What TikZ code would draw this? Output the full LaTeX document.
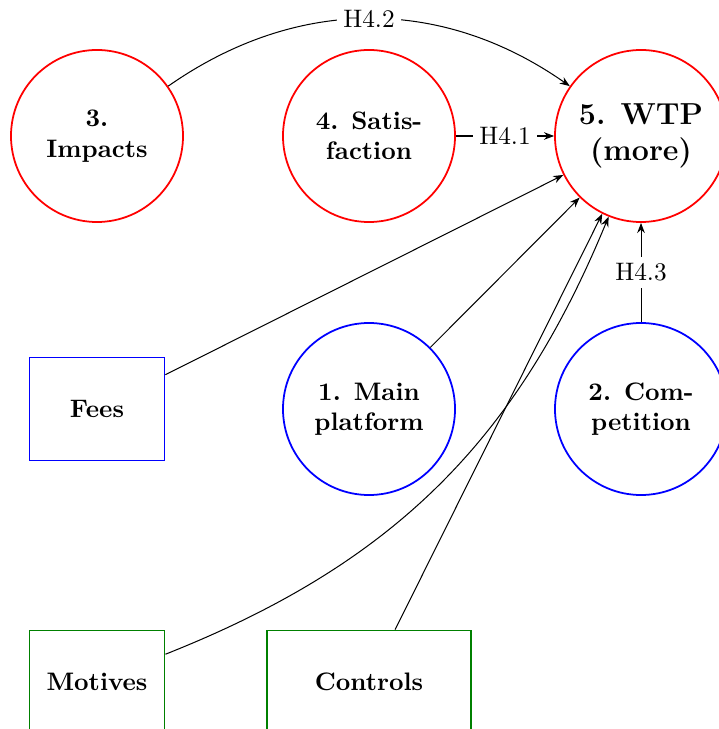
\documentclass[tikz,border=0pt]{standalone}
\usetikzlibrary{arrows.meta}
\begin{document}
\begin{tikzpicture}[x={(0.3953pt,0)}, y={(0,-0.3953pt)},
  every node/.style={font=\bfseries, align=center},
  var/.style={circle, draw, line width=0.7pt, minimum size=68pt, inner sep=0pt},
  redvar/.style={var, draw=red},
  bluevar/.style={var, draw=blue},
  ctrlbox/.style={rectangle, draw, line width=0.7pt, minimum height=40.7pt},
  lbl/.style={font=\normalfont, fill=white, inner sep=2.5pt},
  conn/.style={-{Stealth[length=4pt,width=3pt]}, thin}
]
\useasboundingbox (0,0) rectangle (719,729);
\clip (0,0) rectangle (719,729);
\node[redvar] (imp) at (97,136) {3.\\Impacts};
\node[redvar] (sat) at (369,136) {4. Satis-\\faction};
\node[redvar, font=\bfseries\large] (wtp) at (641,136) {5. WTP\\(more)};
\node[bluevar] (main) at (369,409) {1. Main\\platform};
\node[bluevar] (comp) at (641,409) {2. Com-\\petition};
\node[ctrlbox, draw=blue, minimum width=53.4pt] (fees) at (97,409) {Fees};
\node[ctrlbox, draw=green!50!black, minimum width=53.4pt] (mot) at (97,682) {Motives};
\node[ctrlbox, draw=green!50!black, minimum width=80.6pt] (ctrl) at (369,682) {Controls};
\draw[conn] (imp) to[bend left=35] node[lbl] {H4.2} (wtp);
\draw[conn] (sat) -- node[lbl] {H4.1} (wtp);
\draw[conn] (comp) -- node[lbl] {H4.3} (wtp);
\draw[conn] (fees) -- (wtp);
\draw[conn] (main) -- (wtp);
\draw[conn] (mot) to[bend right=23] (wtp);
\draw[conn] (ctrl) -- (wtp);
\end{tikzpicture}
\end{document}
